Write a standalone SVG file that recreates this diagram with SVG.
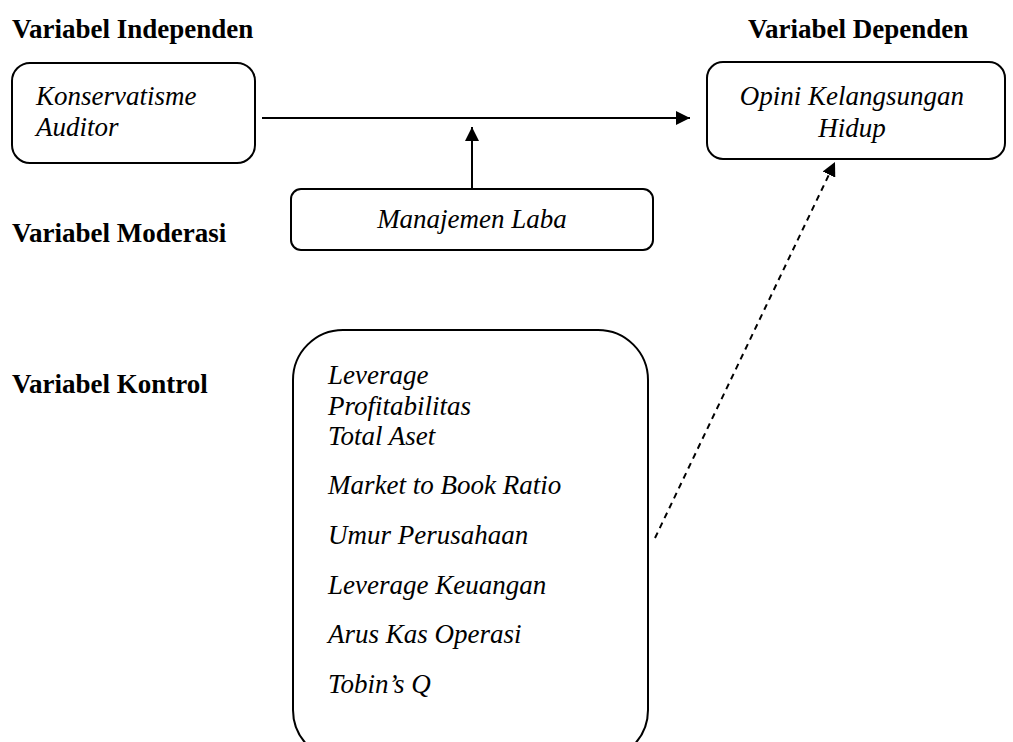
<svg xmlns="http://www.w3.org/2000/svg" width="1013" height="742" viewBox="0 0 1013 742">
<style>
.lbl{font-family:"Liberation Serif","Times New Roman",serif;font-weight:bold;font-size:27px;fill:#000}
.t{font-family:"Liberation Serif","Times New Roman",serif;font-style:italic;font-size:27px;fill:#000}
.box{fill:#fff;stroke:#000;stroke-width:2}
.ln{stroke:#000;stroke-width:2;fill:none}
</style>
<defs>
<marker id="ah2" viewBox="0 0 10 10" refX="10" refY="5" markerWidth="14" markerHeight="14" markerUnits="userSpaceOnUse" orient="auto">
<path d="M0,0 L10,5 L0,10 Z" fill="#000"/>
</marker>
</defs>
<g id="labels">
<text class="lbl" x="12" y="38">Variabel Independen</text>
<text class="lbl" x="748" y="38">Variabel Dependen</text>
<text class="lbl" x="12" y="242">Variabel Moderasi</text>
<text class="lbl" x="12" y="393">Variabel Kontrol</text>
</g>
<g id="connectors">
<line class="ln" x1="262" y1="118" x2="690" y2="118" marker-end="url(#ah2)"/>
<line class="ln" x1="472" y1="189" x2="472" y2="127" marker-end="url(#ah2)"/>
<line class="ln" x1="655" y1="538" x2="835" y2="162" stroke-dasharray="6,5" marker-end="url(#ah2)"/>
</g>
<g id="konservatisme">
<rect class="box" x="12" y="63" width="243" height="100" rx="18"/>
<text class="t" x="36" y="105">Konservatisme</text>
<text class="t" x="36" y="136">Auditor</text>
</g>
<g id="opini">
<rect class="box" x="707" y="62" width="298" height="97" rx="16"/>
<text class="t" x="852" y="105" text-anchor="middle">Opini Kelangsungan</text>
<text class="t" x="852" y="137" text-anchor="middle">Hidup</text>
</g>
<g id="manajemen">
<rect class="box" x="291" y="189" width="362" height="61" rx="10"/>
<text class="t" x="472" y="228" text-anchor="middle">Manajemen Laba</text>
</g>
<g id="kontrol">
<rect class="box" x="293" y="330" width="355" height="430" rx="50"/>
<text class="t" x="328" y="384">Leverage</text>
<text class="t" x="328" y="415">Profitabilitas</text>
<text class="t" x="328" y="445">Total Aset</text>
<text class="t" x="328" y="494">Market to Book Ratio</text>
<text class="t" x="328" y="544">Umur Perusahaan</text>
<text class="t" x="328" y="594">Leverage Keuangan</text>
<text class="t" x="328" y="643">Arus Kas Operasi</text>
<text class="t" x="328" y="693">Tobin’s Q</text>
</g>
</svg>
